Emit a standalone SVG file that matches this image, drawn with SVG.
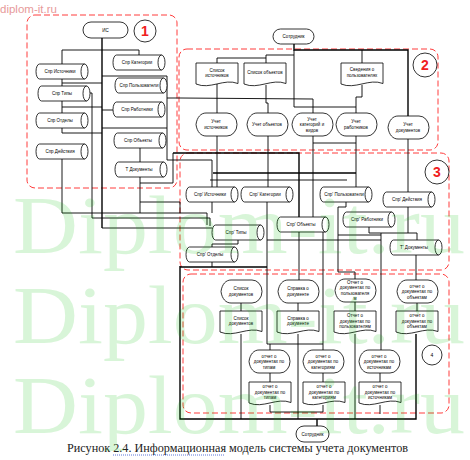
<svg xmlns="http://www.w3.org/2000/svg" xmlns:xlink="http://www.w3.org/1999/xlink" width="470" height="460" viewBox="0 0 470 460">
<style>
.bg{fill:#fff}
.shape{fill:#fff;stroke:#000;stroke-width:0.8}
.t{font-family:"Liberation Sans",Arial,sans-serif;font-size:4.5px;text-anchor:middle;fill:#000}
.region{fill:none;stroke:#ff3c3c;stroke-width:1;stroke-dasharray:6 3}
.num{font-family:"Liberation Sans",Arial,sans-serif;font-size:14px;font-weight:bold;fill:#f02020;text-anchor:middle}
.circ{fill:#fff;stroke:#000;stroke-width:0.8}
.con polyline{fill:none;stroke:#000;stroke-width:0.9}
.con .th{stroke-width:1.4}
.wm{font-family:"Liberation Serif","Times New Roman",serif;font-size:82px;fill:#00c000;opacity:0.15}
</style>
<defs>
<path id="cyl" class="shape" d="M3.5,0 H48.5 A3.5,7.5 0 0 1 48.5,15 H3.5 A3.5,7.5 0 0 1 3.5,0 Z M48.5,0 A3.5,7.5 0 0 0 48.5,15"/>
<path id="doc" class="shape" d="M0,0 H42 V20.5 C28,15 14,27 0,21 Z"/>
<path id="disp" class="shape" d="M0,11.5 C1,4 5,0 10,0 H31 A10,11.5 0 0 1 31,23 H10 C5,23 1,19 0,11.5 Z"/>
</defs>
<rect class="bg" x="0" y="0" width="470" height="460"/>
<text x="0" y="13" style="font-family:'Liberation Sans',Arial,sans-serif;font-size:11.5px;fill:#e79a9a">diplom-it.ru</text>

<g id="regions">
<rect class="region" x="27" y="15" width="150" height="173" rx="8"/>
<rect class="region" x="179" y="49" width="259" height="101" rx="8"/>
<rect class="region" x="180" y="153" width="269" height="117" rx="8"/>
<rect class="region" x="183" y="274" width="266" height="139" rx="8"/>
</g>

<g id="connectors" class="con">
<polyline class="th" points="102,38 102,228"/>
<polyline points="62,64 62,50 139,50 139,55"/>
<polyline points="62,79 62,86"/>
<polyline points="62,83 102,83"/>
<polyline points="62,101 62,113"/>
<polyline points="62,107 102,107"/>
<polyline points="62,128 62,133 102,133"/>
<polyline points="102,110 113,110"/>
<polyline points="102,76 167,76 167,98 180,98 313,99 313,113"/>
<polyline points="167,98 167,128"/>
<polyline points="102,128 167,128 167,160 212,160 212,187"/>
<polyline points="62,159 62,213 207,213 207,225"/>
<polyline points="90,93 92,93 92,218 210,218 210,226"/>
<polyline points="102,228 212,228"/>
<polyline points="140,148 140,162"/>
<polyline points="140,177 140,213"/>
<polyline points="140,183 173,183 173,153"/>
<polyline points="140,202 180,202 180,213"/>
<polyline class="th" points="294,44 294,50 408,50 408,116"/>
<polyline points="362,50 362,63"/>
<polyline points="294,50 294,107 356,107 356,113"/>
<polyline points="294,55 266,55 266,63"/>
<polyline points="266,58 217,58 217,63"/>
<polyline points="217,84 217,113"/>
<polyline points="266,85 266,103 268,103 268,113"/>
<polyline points="362,85 362,97 356,97 356,107"/>
<polyline points="217,136 217,187"/>
<polyline points="268,136 268,187"/>
<polyline points="313,136 313,217"/>
<polyline points="356,136 356,187"/>
<polyline points="408,139 408,192"/>
<polyline points="313,143 356,143"/>
<polyline class="th" points="173,153 299,153 299,217"/>
<polyline class="th" points="213,173 356,173"/>
<polyline points="210,180 347,180"/>
<polyline points="212,202 212,213"/>
<polyline points="267,202 267,344 323,344"/>
<polyline points="270,344 270,350"/>
<polyline points="323,232 323,350"/>
<polyline points="299,232 299,280"/>
<polyline points="238,240 238,244 212,244 212,247"/>
<polyline points="212,262 212,267"/>
<polyline class="th" points="180,267 267,267"/>
<polyline class="th" points="180,266 180,419 416,419 416,334"/>
<polyline points="346,202 346,207 338,207 338,272 355,272 355,279"/>
<polyline points="267,240 381,240"/>
<polyline points="338,235 381,235"/>
<polyline points="369,227 369,233 417,233 417,240"/>
<polyline points="408,207 408,233"/>
<polyline points="381,233 381,350"/>
<polyline points="416,255 416,280"/>
<polyline points="241,303 241,311"/>
<polyline points="241,334 241,419"/>
<polyline points="298,303 298,311"/>
<polyline points="298,334 298,419"/>
<polyline points="355,302 355,311"/>
<polyline points="355,334 355,419"/>
<polyline points="417,303 417,311"/>
<polyline points="270,373 270,382"/>
<polyline points="323,373 323,382"/>
<polyline points="380,373 380,382"/>
<polyline points="270,405 270,412 323,412 323,405"/>
<polyline points="380,405 380,414"/>
<polyline class="th" points="317,419 317,426"/>
</g>

<g id="n-is"><rect class="shape" x="83" y="22" width="45" height="16" rx="8"/><text class="t" x="105.5" y="31.6">ИС</text></g>
<g id="n-c1"><circle class="circ" cx="145" cy="31" r="11"/><text class="num" x="145" y="36">1</text></g>
<g id="n-spr-ist"><use xlink:href="#cyl" x="36" y="64"/><text class="t" x="60" y="73.1">Спр Источники</text></g>
<g id="n-spr-tip"><use xlink:href="#cyl" x="38" y="86"/><text class="t" x="62" y="95.1">Спр Типы</text></g>
<g id="n-spr-otd"><use xlink:href="#cyl" x="36" y="113"/><text class="t" x="60" y="122.1">Спр Отделы</text></g>
<g id="n-spr-dei"><use xlink:href="#cyl" x="36" y="144"/><text class="t" x="60" y="153.1">Спр Действия</text></g>
<g id="n-spr-kat"><use xlink:href="#cyl" x="113" y="55"/><text class="t" x="137" y="64.1">Спр Категории</text></g>
<g id="n-spr-pol"><use xlink:href="#cyl" x="115" y="78"/><text class="t" x="139" y="87.1">Спр Пользователи</text></g>
<g id="n-spr-rab"><use xlink:href="#cyl" x="113" y="102"/><text class="t" x="137" y="111.1">Спр Работники</text></g>
<g id="n-spr-obj"><use xlink:href="#cyl" x="114" y="133"/><text class="t" x="138" y="142.1">Спр Объекты</text></g>
<g id="n-t-doc"><use xlink:href="#cyl" x="115" y="162"/><text class="t" x="139" y="171.1">Т Документы</text></g>

<g id="n-sotr1"><rect class="shape" x="273" y="29" width="41" height="15" rx="7.5"/><text class="t" x="293.5" y="38.1">Сотрудник</text></g>
<g id="n-c2"><circle class="circ" cx="425" cy="65" r="12"/><text class="num" x="425" y="70">2</text></g>
<g id="n-sp-ist"><use xlink:href="#doc" x="196" y="63"/><text class="t" x="217" y="71.9">Список<tspan x="217" dy="5.5">источников</tspan></text></g>
<g id="n-sp-obj"><use xlink:href="#doc" x="244" y="63"/><text class="t" x="265" y="74">Список объектов</text></g>
<g id="n-sv-pol"><use xlink:href="#doc" x="341" y="63"/><text class="t" x="362" y="71.4">Сведения о<tspan x="362" dy="5.5">пользователях</tspan></text></g>
<g id="n-uch-ist"><use xlink:href="#disp" x="196" y="113"/><text class="t" x="216" y="123.3">Учет<tspan x="216" dy="5.5">источников</tspan></text></g>
<g id="n-uch-obj"><use xlink:href="#disp" x="247" y="113"/><text class="t" x="267" y="126.1">Учет объектов</text></g>
<g id="n-uch-kat"><use xlink:href="#disp" x="292" y="113"/><text class="t" x="312" y="120.6">Учет<tspan x="312" dy="5.5">категорий и</tspan><tspan x="312" dy="5.5">видов</tspan></text></g>
<g id="n-uch-rab"><use xlink:href="#disp" x="336" y="113"/><text class="t" x="356" y="123.3">Учет<tspan x="356" dy="5.5">работников</tspan></text></g>
<g id="n-uch-doc"><use xlink:href="#disp" x="388" y="116"/><text class="t" x="408" y="126.3">Учет<tspan x="408" dy="5.5">документов</tspan></text></g>

<g id="n-c3"><circle class="circ" cx="437" cy="172" r="12"/><text class="num" x="437" y="177">3</text></g>
<g id="n-sprp-ist"><use xlink:href="#cyl" x="186" y="187"/><text class="t" x="210" y="196.1">Спр' Источники</text></g>
<g id="n-sprp-kat"><use xlink:href="#cyl" x="241" y="187"/><text class="t" x="265" y="196.1">Спр' Категории</text></g>
<g id="n-sprp-pol"><use xlink:href="#cyl" x="320" y="187"/><text class="t" x="344" y="196.1">Спр' Пользователи</text></g>
<g id="n-sprp-dei"><use xlink:href="#cyl" x="383" y="192"/><text class="t" x="407" y="201.1">Спр' Действия</text></g>
<g id="n-sprp-obj"><use xlink:href="#cyl" x="277" y="217"/><text class="t" x="301" y="226.1">Спр' Объекты</text></g>
<g id="n-sprp-rab"><use xlink:href="#cyl" x="343" y="212"/><text class="t" x="367" y="221.1">Спр' Работники</text></g>
<g id="n-sprp-tip"><use xlink:href="#cyl" x="212" y="225"/><text class="t" x="236" y="234.1">Спр' Типы</text></g>
<g id="n-sprp-otd"><use xlink:href="#cyl" x="186" y="247"/><text class="t" x="210" y="256.1">Спр' Отделы</text></g>
<g id="n-tp-doc"><use xlink:href="#cyl" x="390" y="240"/><text class="t" x="414" y="249.1">Т' Документы</text></g>

<g id="n-c4"><circle class="circ" cx="432" cy="355" r="10"/><text class="t" x="432" y="357" style="font-size:5px">4</text></g>
<g id="n-d-spdoc"><use xlink:href="#disp" x="221" y="280"/><text class="t" x="241" y="290.3">Список<tspan x="241" dy="5.5">документов</tspan></text></g>
<g id="n-d-sprav"><use xlink:href="#disp" x="278" y="280"/><text class="t" x="298" y="290.3">Справка о<tspan x="298" dy="5.5">документе</tspan></text></g>
<g id="n-d-otpol"><use xlink:href="#disp" x="335" y="279"/><text class="t" x="355" y="283.9">Отчет о<tspan x="355" dy="5.5">документах по</tspan><tspan x="355" dy="5.5">пользователя</tspan><tspan x="355" dy="5.5">м</tspan></text></g>
<g id="n-d-otobj"><use xlink:href="#disp" x="397" y="280"/><text class="t" x="417" y="287.6">отчет о<tspan x="417" dy="5.5">документах по</tspan><tspan x="417" dy="5.5">объектам</tspan></text></g>
<g id="n-p-spdoc"><use xlink:href="#doc" x="220" y="311"/><text class="t" x="241" y="319.9">Список<tspan x="241" dy="5.5">документов</tspan></text></g>
<g id="n-p-sprav"><use xlink:href="#doc" x="277" y="311"/><text class="t" x="298" y="319.9">Справка о<tspan x="298" dy="5.5">документе</tspan></text></g>
<g id="n-p-otpol"><use xlink:href="#doc" x="334" y="311"/><text class="t" x="355" y="317.1">Отчет о<tspan x="355" dy="5.5">документах по</tspan><tspan x="355" dy="5.5">пользователям</tspan></text></g>
<g id="n-p-otobj"><use xlink:href="#doc" x="396" y="311"/><text class="t" x="417" y="317.1">отчет о<tspan x="417" dy="5.5">документах по</tspan><tspan x="417" dy="5.5">объектам</tspan></text></g>
<g id="n-d-ottip"><use xlink:href="#disp" x="249" y="350"/><text class="t" x="269" y="357.6">отчет о<tspan x="269" dy="5.5">документах по</tspan><tspan x="269" dy="5.5">типам</tspan></text></g>
<g id="n-d-otkat"><use xlink:href="#disp" x="303" y="350"/><text class="t" x="323" y="357.6">отчет о<tspan x="323" dy="5.5">документах по</tspan><tspan x="323" dy="5.5">категориям</tspan></text></g>
<g id="n-d-otist"><use xlink:href="#disp" x="359" y="350"/><text class="t" x="379" y="357.6">отчет о<tspan x="379" dy="5.5">документах по</tspan><tspan x="379" dy="5.5">источникам</tspan></text></g>
<g id="n-p-ottip"><use xlink:href="#doc" x="249" y="382"/><text class="t" x="270" y="388.1">отчет о<tspan x="270" dy="5.5">документах по</tspan><tspan x="270" dy="5.5">типам</tspan></text></g>
<g id="n-p-otkat"><use xlink:href="#doc" x="303" y="382"/><text class="t" x="324" y="388.1">отчет о<tspan x="324" dy="5.5">документах по</tspan><tspan x="324" dy="5.5">категориям</tspan></text></g>
<g id="n-p-otist"><use xlink:href="#doc" x="359" y="382"/><text class="t" x="380" y="388.1">отчет о<tspan x="380" dy="5.5">документах по</tspan><tspan x="380" dy="5.5">источникам</tspan></text></g>
<g id="n-sotr2"><rect class="shape" x="296" y="426" width="33" height="16" rx="8"/><text class="t" x="312.5" y="435.6">Сотрудник</text></g>

<text x="67" y="452" textLength="341" lengthAdjust="spacingAndGlyphs" style="font-family:'Liberation Serif','Times New Roman',serif;font-size:12.5px;fill:#222">Рисунок 2.4. Информационная модель системы учета документов</text>
<line x1="113" y1="455" x2="225" y2="455" stroke="#3050d0" stroke-width="0.8" stroke-dasharray="1 1"/>

<g id="watermark">
<text class="wm" x="13" y="253" textLength="452" lengthAdjust="spacingAndGlyphs">Diplom-it.ru</text>
<text class="wm" x="13" y="343" textLength="452" lengthAdjust="spacingAndGlyphs">Diplom-it.ru</text>
<text class="wm" x="13" y="433" textLength="452" lengthAdjust="spacingAndGlyphs">Diplom-it.ru</text>
</g>
</svg>
